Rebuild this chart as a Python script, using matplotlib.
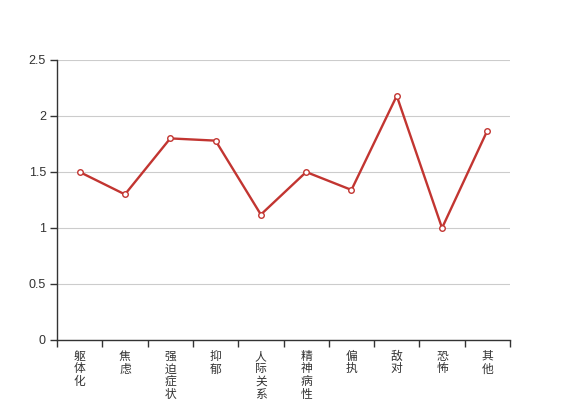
import matplotlib
matplotlib.use('Agg')
import matplotlib.pyplot as plt
import numpy as np

plt.rcParams['font.family'] = ['Noto Sans CJK SC', 'DejaVu Sans']

# data
categories = ['躯体化', '焦虑', '强迫症状', '抑郁', '人际关系敏感',
              '精神病性', '偏执', '敌对', '恐怖', '其他']
values = [1.50, 1.30, 1.80, 1.78, 1.12, 1.50, 1.34, 2.18, 1.00, 1.87]
y_ticks = [0, 0.5, 1, 1.5, 2, 2.5]
y_tick_labels = ['0', '0.5', '1', '1.5', '2', '2.5']

fig = plt.figure(figsize=(5.67, 4.0), dpi=100)
ax = fig.add_axes([57 / 567, 60 / 400, 453 / 567, 280 / 400])

x = np.arange(len(categories))
ax.plot(x, values, color='#c23531', linewidth=1.7, marker='o', markersize=4,
        markerfacecolor='white', markeredgecolor='#c23531', markeredgewidth=1,
        zorder=3, clip_on=False)

ax.set_xlim(-0.5, len(categories) - 0.5)
ax.set_ylim(0, 2.5)

ax.set_yticks(y_ticks)
ax.set_yticklabels(y_tick_labels, family=['Liberation Sans', 'DejaVu Sans'])
ax.yaxis.grid(True, color='#cccccc', linewidth=0.8)
ax.set_axisbelow(True)

# category labels stacked vertically, ticks on band boundaries
ax.set_xticks(x)
ax.set_xticklabels(['\n'.join(c) for c in categories], linespacing=0.97,
                   va='top')
ax.tick_params(axis='x', which='major', length=0, pad=7, labelsize=8.5,
               labelcolor='#333333')
ax.set_xticks(np.arange(-0.5, len(categories)), minor=True)
ax.tick_params(axis='x', which='minor', length=5, color='#333333', width=1)
ax.tick_params(axis='y', length=5, color='#333333', width=1, labelsize=9,
               labelcolor='#333333', pad=3)

for s in ['top', 'right']:
    ax.spines[s].set_visible(False)
for s in ['left', 'bottom']:
    ax.spines[s].set_color('#333333')
    ax.spines[s].set_linewidth(1)

fig.savefig('out.png', dpi=100)
